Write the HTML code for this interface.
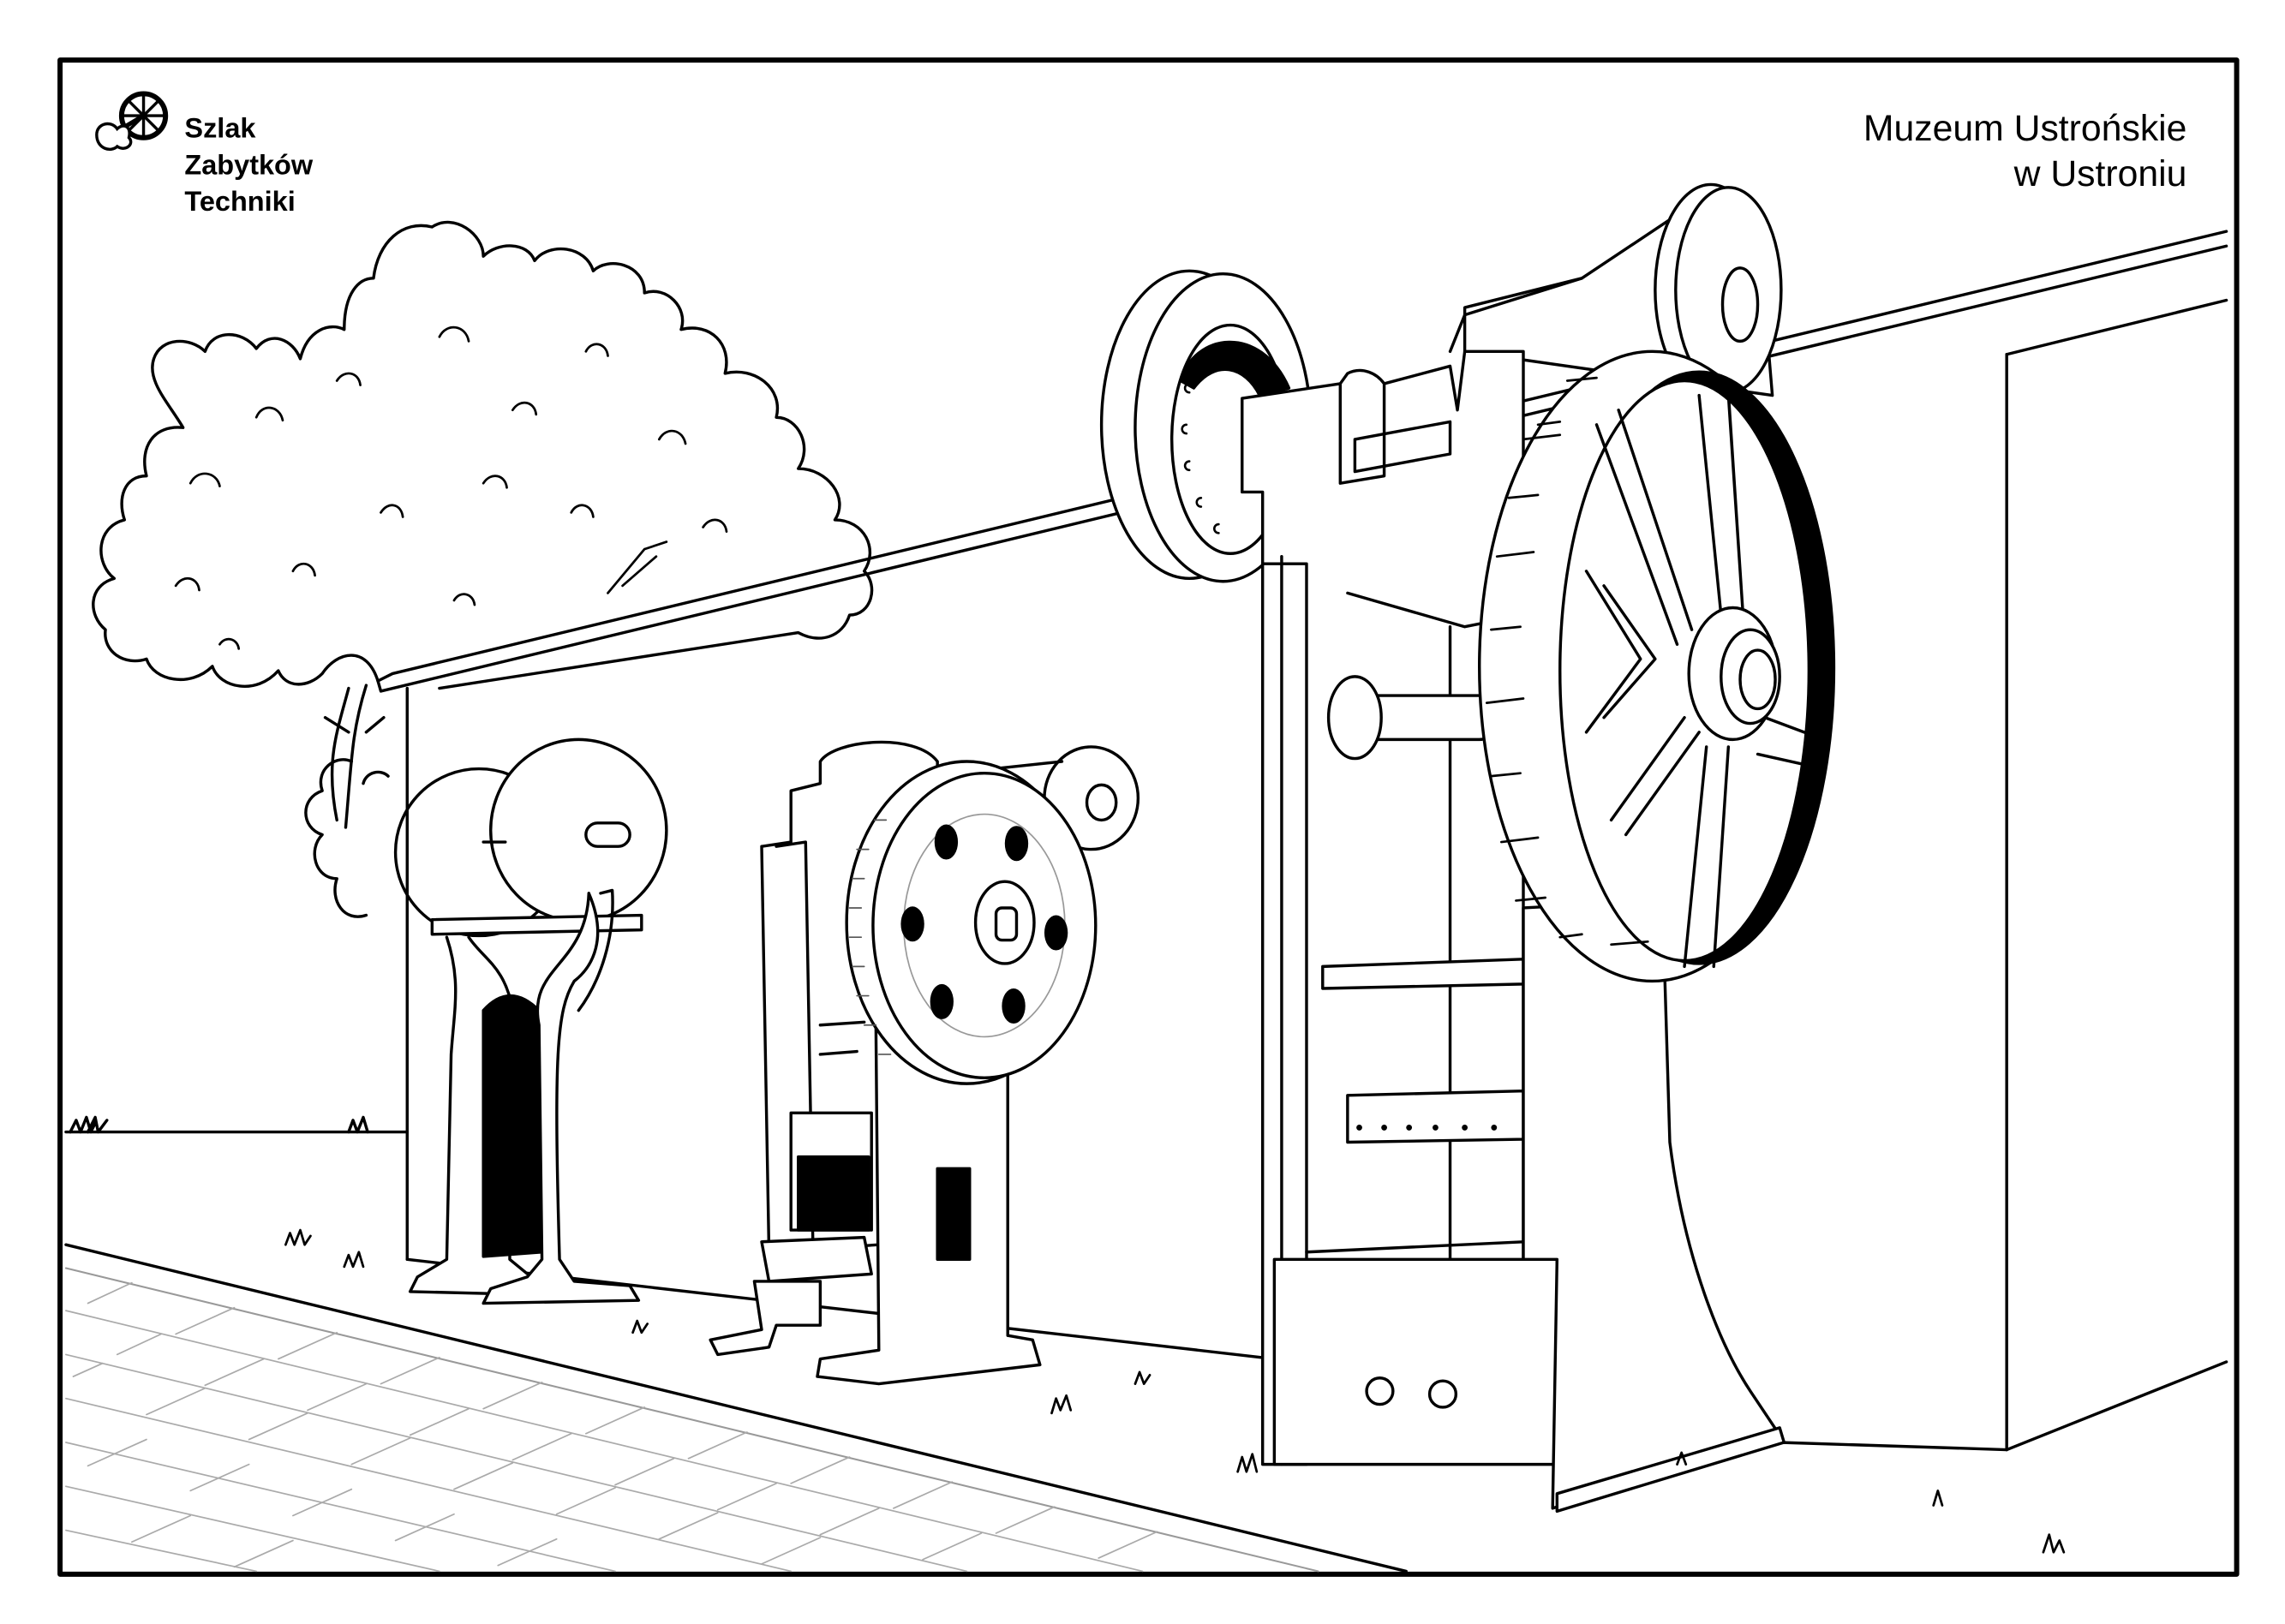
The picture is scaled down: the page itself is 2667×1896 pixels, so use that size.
<!DOCTYPE html>
<html><head><meta charset="utf-8"><style>
html,body{margin:0;padding:0;background:#fff;}
svg{display:block;}
text{font-family:"Liberation Sans",sans-serif;}
</style></head><body>
<svg width="2667" height="1896" viewBox="0 0 1560 1109" xmlns="http://www.w3.org/2000/svg">
<rect width="1560" height="1109" fill="#fff"/>
<g fill="none" stroke="#000" stroke-width="2" stroke-linejoin="round" stroke-linecap="round">
<!-- border -->
<rect x="41" y="41" width="1486" height="1034" stroke-width="3.5"/>

<!-- sidewalk -->
<path d="M45 850 L960 1073" />
<path d="M45 866 L900 1073" stroke="#999" stroke-width="1.2"/>
<g stroke="#aaa" stroke-width="1">
<path d="M45 895 L780 1073"/><path d="M45 925 L660 1073"/><path d="M45 955 L540 1073"/><path d="M45 985 L420 1073"/><path d="M45 1015 L300 1073"/><path d="M45 1045 L175 1073"/>
<path d="M90 876 L60 890 M160 893 L120 911 M230 910 L190 928 M300 927 L260 945 M370 944 L330 962 M440 961 L400 979 M510 978 L470 996 M580 995 L540 1013 M650 1012 L610 1030 M720 1029 L680 1047 M790 1046 L750 1064"/>
<path d="M110 911 L80 925 M180 928 L140 946 M250 945 L210 963 M320 962 L280 980 M390 979 L350 997 M460 996 L420 1014 M530 1013 L490 1031 M600 1030 L560 1048 M670 1047 L630 1065"/>
<path d="M70 931 L50 940 M140 948 L100 966 M210 965 L170 983 M280 982 L240 1000 M350 999 L310 1017 M420 1016 L380 1034 M490 1033 L450 1051 M560 1050 L520 1068"/>
<path d="M100 983 L60 1001 M170 1000 L130 1018 M240 1017 L200 1035 M310 1034 L270 1052 M380 1051 L340 1069"/>
<path d="M130 1035 L90 1053 M200 1052 L160 1070"/>
</g>

<!-- grass line -->
<path d="M45 773 L278 773"/>
<path d="M48 773 l4 -8 l3 8 l4 -10 l3 10 l3 -6 M60 773 l5 -10 l2 10 l6 -8 M238 773 l3 -8 l3 8 l4 -10 l3 10"/>

<!-- building -->
<path d="M258 465 L268 460 L1520 158"/>
<path d="M258 465 L260 472 L1520 168" />
<path d="M278 470 L278 860"/>
<path d="M278 860 L870 928"/>
<path d="M1370 242 L1370 990"/>
<path d="M1370 990 L1520 930"/>
<path d="M1370 242 L1520 205"/>
<path d="M1215 985 L1370 990"/>

<!-- tree -->
<path d="M238 470 C230 500 222 520 230 560 M250 468 C240 500 240 520 236 565 M222 490 L238 500 M250 500 L262 490"/>
<path d="M258 465 C250 440 230 445 220 460 C210 470 195 470 190 458 C175 475 150 470 145 455 C130 470 105 465 100 450 C85 455 70 445 72 430 C60 420 60 400 78 395 C65 385 65 360 85 355 C80 340 85 325 100 325 C95 305 105 290 125 292 C115 275 100 260 105 245 C110 230 130 230 140 240 C145 225 165 225 175 238 C185 225 200 232 205 245 C210 225 225 220 235 225 C235 200 245 190 255 190 C258 165 275 150 295 155 C310 145 330 160 330 175 C340 165 360 165 365 178 C375 165 400 168 405 185 C415 175 440 180 440 200 C455 195 470 210 465 225 C485 220 500 235 495 255 C515 250 535 265 530 285 C545 285 555 305 545 320 C565 320 580 340 570 355 C590 355 600 375 590 390 C600 400 595 420 580 420 C575 435 560 440 545 432 L300 470"/>
<path d="M240 520 C230 515 215 525 220 540 C205 545 205 565 220 570 C210 580 215 600 230 600 C225 615 235 630 250 625 M265 530 C260 525 250 527 248 535"/>
<g stroke-width="1.6">
<path d="M130 330 c5 -10 18 -8 20 2 M175 285 c4 -10 16 -8 18 2 M230 260 c5 -8 15 -6 16 3 M300 230 c5 -10 18 -8 20 3 M350 280 c5 -8 15 -6 16 3 M400 240 c4 -8 14 -6 15 3 M450 300 c5 -9 16 -7 18 3 M120 400 c5 -8 15 -6 16 3 M200 390 c4 -8 14 -6 15 3 M260 350 c5 -8 14 -6 15 3 M330 330 c5 -8 15 -6 16 3 M390 350 c4 -8 14 -6 15 3 M480 360 c5 -8 15 -6 16 3 M150 440 c4 -6 12 -4 13 3 M310 410 c4 -7 13 -5 14 3"/>
<path d="M415 405 L440 375 M425 400 L448 380 M440 375 L455 370"/>
</g>

<!-- left machine (twin discs) -->
<ellipse cx="327" cy="582" rx="57" ry="57"/>
<ellipse cx="395" cy="567" rx="60" ry="62" fill="#fff"/>
<rect x="400" y="562" width="30" height="16" rx="8"/>
<path d="M330 575 L345 575"/>
<path d="M295 628 L438 625 L438 635 L295 638 Z" fill="#fff"/>
<path d="M305 640 C315 670 310 690 308 720 L305 860 L285 872 L280 882 L360 884 L365 874 L348 860 L350 690 C345 660 330 655 320 640" fill="#fff"/>
<path d="M330 690 Q348 670 368 690 L370 855 L330 858 Z" fill="#000"/>
<path d="M402 610 C415 640 405 660 392 670 C380 690 378 720 382 860 L392 875 L430 878 L436 888 L330 890 L335 880 L360 872 L370 860 L368 700 C360 660 400 660 402 610" fill="#fff"/>
<path d="M410 610 L418 608 C420 640 410 670 395 690"/>

<!-- middle press -->
<path d="M520 578 L540 575 L540 540 L560 535 L560 520 C570 505 625 500 640 520 L640 700 L600 705 L600 850 L525 855 L520 578" fill="#fff"/>
<path d="M530 578 L550 575 L555 850"/>
<rect x="540" y="760" width="55" height="80" fill="#fff"/>
<rect x="545" y="790" width="48" height="50" fill="#000"/>
<path d="M520 848 L590 845 L595 870 L525 875 Z" fill="#fff"/>
<path d="M515 875 L560 875 L560 905 L530 905 L525 920 L490 925 L485 915 L520 908 Z" fill="#fff"/>
<path d="M598 700 L688 700 L688 912 L705 915 L710 932 L600 945 L558 940 L560 928 L600 922 Z" fill="#fff"/>
<rect x="640" y="798" width="22" height="62" fill="#000"/>
<path d="M560 720 L585 718 M560 700 L590 698"/>
<ellipse cx="745" cy="545" rx="32" ry="35" fill="#fff"/>
<ellipse cx="752" cy="548" rx="10" ry="12"/>
<path d="M725 520 L650 528"/>
<ellipse cx="660" cy="630" rx="82" ry="110" fill="#fff"/>
<ellipse cx="672" cy="632" rx="76" ry="104" fill="#fff"/>
<g stroke-width="1" stroke="#555"><path d="M585 580 l8 0 M582 600 l8 0 M580 620 l8 0 M580 640 l8 0 M582 660 l8 0 M585 680 l8 0 M590 700 l8 0 M597 560 l8 0 M600 720 l8 0"/></g>
<ellipse cx="672" cy="632" rx="55" ry="76" stroke="#999" stroke-width="1"/>
<ellipse cx="686" cy="630" rx="20" ry="28"/>
<rect x="680" y="620" width="14" height="22" rx="4"/>
<g fill="#000" stroke="none">
<ellipse cx="646" cy="575" rx="8" ry="12"/><ellipse cx="694" cy="576" rx="8" ry="12"/>
<ellipse cx="623" cy="631" rx="8" ry="12"/><ellipse cx="721" cy="637" rx="8" ry="12"/>
<ellipse cx="643" cy="684" rx="8" ry="12"/><ellipse cx="692" cy="687" rx="8" ry="12"/>
</g>

<!-- big press -->
<!-- left pulley -->
<ellipse cx="812" cy="290" rx="60" ry="105" fill="#fff"/>
<ellipse cx="835" cy="292" rx="60" ry="105" fill="#fff"/>
<ellipse cx="840" cy="300" rx="40" ry="78" fill="#fff"/>
<path d="M806 260 C815 228 860 220 880 265 L860 270 C850 250 830 245 815 265 Z" fill="#000"/>
<g stroke-width="1.5"><path d="M812 262 a3 3 0 0 0 0 6 M818 246 a3 3 0 0 0 0 6 M830 240 a3 3 0 0 0 0 6 M810 290 a3 3 0 0 0 0 6 M812 315 a3 3 0 0 0 0 6 M820 340 a3 3 0 0 0 0 6 M832 358 a3 3 0 0 0 0 6"/></g>
<!-- top right pulley -->
<path d="M1000 210 L1080 190 L1140 150 L1200 150 L1210 270 L1000 240 Z" fill="#fff"/>
<path d="M1080 190 L1000 215 L990 240"/>
<ellipse cx="1168" cy="198" rx="38" ry="72" fill="#fff"/>
<ellipse cx="1180" cy="198" rx="36" ry="70" fill="#fff"/>
<ellipse cx="1188" cy="208" rx="12" ry="25"/>
<!-- frame top -->
<path d="M848 272 L915 262 L920 255 C930 250 940 255 945 262 L990 250 L995 280 L1000 240 L1040 240 L1040 870 L875 870 L875 385 L862 385 L862 336 L848 336 Z" fill="#fff"/>
<path d="M862 385 L892 385 L892 1000 L862 1000 Z" fill="#fff"/>
<path d="M875 380 L875 1000"/>
<path d="M915 262 L915 330 L945 325 L945 262"/>
<path d="M925 300 L990 288 L990 310 L925 322 Z"/>
<path d="M892 855 L1040 848"/>
<path d="M892 870 L1040 862"/>
<path d="M920 405 L1000 428 L1040 420"/>
<path d="M990 428 L990 860"/>
<path d="M920 748 L1040 745 L1040 778 L920 780 Z" fill="#fff"/>
<g fill="#000" stroke="none"><circle cx="928" cy="770" r="2"/><circle cx="945" cy="770" r="2"/><circle cx="962" cy="770" r="2"/><circle cx="980" cy="770" r="2"/><circle cx="1000" cy="770" r="2"/><circle cx="1020" cy="770" r="2"/></g>
<path d="M903 660 L1040 655 L1040 672 L903 675 Z" fill="#fff"/>
<!-- bottom base -->
<path d="M870 860 L1063 860 L1063 1000 L870 1000 Z" fill="#fff"/>
<path d="M1040 620 L1135 615 L1140 780 C1150 860 1175 920 1195 950 L1215 980 L1060 1030 L1063 860 L1040 860 Z" fill="#fff"/>
<path d="M1063 1020 L1215 975 L1218 985 L1063 1032 Z" fill="#fff"/>
<circle cx="942" cy="950" r="9"/><circle cx="985" cy="952" r="9"/>
<!-- axle pin -->
<rect x="930" y="475" width="90" height="30" rx="10" fill="#fff"/>
<ellipse cx="925" cy="490" rx="18" ry="28" fill="#fff"/>
<!-- big wheel -->
<ellipse cx="1128" cy="455" rx="118" ry="215" fill="#fff"/>
<ellipse cx="1160" cy="456" rx="92" ry="202" fill="#000"/>
<ellipse cx="1150" cy="458" rx="85" ry="198" fill="#fff"/>
<g stroke-width="1.6"><path d="M1040 300 l25 -3 M1030 340 l20 -2 M1022 380 l25 -3 M1018 430 l20 -2 M1015 480 l25 -3 M1018 530 l20 -2 M1025 575 l25 -3 M1035 615 l20 -2 M1050 290 l15 -2 M1070 260 l20 -2 M1100 645 l25 -2 M1065 640 l15 -2"/></g>
<path d="M1090 290 L1145 440 M1105 280 L1155 430"/>
<path d="M1160 270 L1175 420 M1180 270 L1190 420 L1180 268"/>
<path d="M1083 390 L1120 450 L1083 500 M1095 400 L1130 450 L1095 490"/>
<path d="M1100 560 L1150 490 M1110 570 L1160 500"/>
<path d="M1150 660 L1165 510 M1170 660 L1180 510"/>
<path d="M1205 490 L1245 505 L1245 525 L1200 515"/>
<ellipse cx="1183" cy="460" rx="30" ry="45" fill="#fff"/>
<ellipse cx="1195" cy="462" rx="20" ry="32" fill="#fff"/>
<ellipse cx="1200" cy="464" rx="12" ry="20" fill="#fff"/>

<!-- grass tufts -->
<g stroke-width="1.6">
<path d="M195 850 l3 -8 l3 8 l4 -10 l3 10 l4 -6 M235 865 l3 -8 l3 8 l4 -10 l3 10 M432 910 l3 -8 l3 8 l4 -6 M718 965 l3 -10 l3 8 l4 -10 l3 10 M775 945 l3 -8 l3 8 l4 -6 M845 1005 l3 -10 l3 10 l4 -12 l3 12 M1320 1028 l3 -10 l3 10 M1395 1060 l4 -12 l3 12 l4 -8 l3 8 M1145 1000 l3 -8 l3 8"/>
</g>
</g>

<!-- logo -->
<g transform="translate(62,62)">
<circle cx="36" cy="17" r="15" fill="none" stroke="#000" stroke-width="3.5"/>
<g stroke="#000" stroke-width="2"><path d="M36 2 V32 M21 17 H51 M25 6 L47 28 M47 6 L25 28"/></g>
<path d="M36 17 L14 30" stroke="#000" stroke-width="3"/>
<path d="M4 30 c0 -8 10 -10 14 -4 c4 -4 10 -2 8 6 c4 4 -2 10 -8 6 c-4 4 -14 2 -14 -8 z" fill="#fff" stroke="#000" stroke-width="2"/>
</g>
<g font-weight="bold" font-size="19" fill="#000">
<text x="126" y="94">Szlak</text>
<text x="126" y="119">Zabytków</text>
<text x="126" y="144">Techniki</text>
</g>
<g font-size="25" fill="#000" text-anchor="end">
<text x="1493" y="96">Muzeum Ustrońskie</text>
<text x="1493" y="127">w Ustroniu</text>
</g>
</svg>
</body></html>
